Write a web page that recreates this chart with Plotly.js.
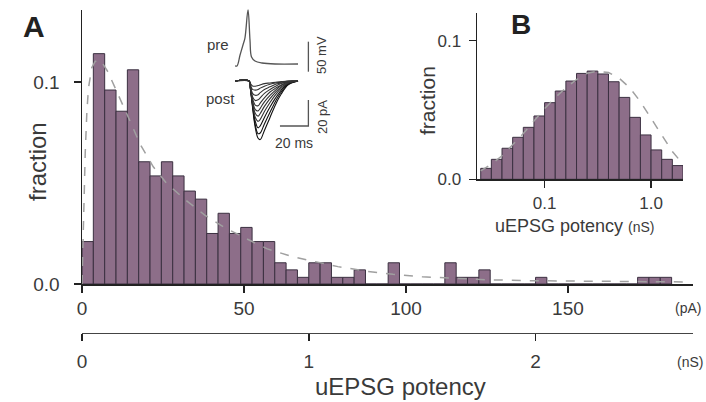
<!DOCTYPE html>
<html>
<head>
<meta charset="utf-8">
<script src="https://cdn.plot.ly/plotly-3.0.1.min.js"></script>
<style>
html,body{margin:0;padding:0;background:#fff;}
#chart{width:706px;height:402px;}
</style>
</head>
<body>
<div id="chart"></div>
<script>
// ---------- Panel A: histogram (pA) ----------
const binCentersPA = [1.75, 5.25, 8.75, 12.25, 15.75, 19.25, 22.75, 26.25, 29.75, 33.25,
  36.75, 40.25, 43.75, 47.25, 50.75, 54.25, 57.75, 61.25, 64.75, 68.25,
  71.75, 75.25, 78.75, 82.25, 85.75, 89.25, 92.75, 96.25, 99.75, 103.25,
  106.75, 110.25, 113.75, 117.25, 120.75, 124.25, 127.75, 131.25, 134.75, 138.25,
  141.75, 145.25, 148.75, 152.25, 155.75, 159.25, 162.75, 166.25, 169.75, 173.25,
  176.75, 180.25];
const fractionA = [0.021, 0.114, 0.096, 0.0855, 0.106, 0.0605, 0.0535, 0.0605, 0.0535, 0.046,
  0.042, 0.025, 0.035, 0.025, 0.028, 0.021, 0.021, 0.0105, 0.007, 0.0033,
  0.0105, 0.0105, 0.0033, 0.0033, 0.007, 0, 0, 0.0105, 0, 0,
  0, 0, 0.0105, 0.0033, 0.0033, 0.007, 0, 0, 0, 0,
  0.0033, 0, 0, 0, 0, 0, 0, 0, 0, 0.0033,
  0.0033, 0.0033];
const fitA_x = [0, 0.5, 1, 1.5, 2, 3, 4, 5, 6, 8, 10, 12, 15, 18, 22, 26, 32, 38, 44, 50,
  57, 65, 72, 79, 88, 96, 105, 115, 125, 140, 155, 170, 188];
const fitA_y = [0, 0.035, 0.065, 0.085, 0.097, 0.107, 0.110, 0.111, 0.110, 0.105, 0.098, 0.091,
  0.080, 0.069, 0.058, 0.050, 0.0415, 0.034, 0.028, 0.023, 0.0175, 0.0135, 0.011, 0.0086,
  0.0063, 0.0048, 0.0036, 0.0027, 0.0021, 0.0016, 0.0013, 0.0011, 0.001];
const pATicks = [0, 50, 100, 150];
const nSTicks = [0, 1, 2];
const yTicksA = [0, 0.1];
const yTickTextA = ['0.0', '0.1'];

// ---------- Panel B: histogram (log10 nS) ----------
const binCentersLogB = [-1.55, -1.45, -1.35, -1.25, -1.15, -1.05, -0.95, -0.85, -0.75, -0.65,
  -0.55, -0.45, -0.35, -0.25, -0.15, -0.05, 0.05, 0.15, 0.25];
const fractionB = [0.0079, 0.0144, 0.0224, 0.0303, 0.0375, 0.0457, 0.0553, 0.0637, 0.0709, 0.0764,
  0.0781, 0.0760, 0.0704, 0.0591, 0.0447, 0.0320, 0.0212, 0.0144, 0.0099];
const fitB_x = [-1.6, -1.5, -1.4, -1.3, -1.2, -1.1, -1.0, -0.9, -0.8, -0.7, -0.6, -0.5, -0.4,
  -0.3, -0.2, -0.1, 0.0, 0.1, 0.2, 0.3];
const fitB_y = [0.006, 0.011, 0.017, 0.025, 0.033, 0.042, 0.051, 0.059, 0.066, 0.072, 0.0765,
  0.078, 0.077, 0.073, 0.066, 0.056, 0.044, 0.031, 0.020, 0.011];
const xTicksB = [-1, 0];
const xTickTextB = ['0.1', '1.0'];
const yTicksB = [0, 0.1];
const yTickTextB = ['0.0', '0.1'];

// ---------- Inset traces ----------
const preTime = [0, 1.4, 3.6, 5.7, 7.1, 9.3, 10.7, 11.8, 14.3, 19.3, 28.6, 45];
const preVm = [-73, -73.3, -55, -38.3, -26.7, 20, -30, -58.3, -65, -68.3, -70, -70];
const postTime = [0, 10, 11, 12.5, 14.5, 16.5, 18, 21, 25, 29, 33, 38, 45];
const postCurrents = [
  [0, 0, -6, -20, -36, -44, -45, -38, -28, -18, -10, -3, 0],
  [0, 0, -6, -19, -34, -40.5, -40, -33, -24, -15.5, -8.5, -2.5, 0],
  [0, 0, -6, -18, -31, -36, -34.5, -28, -20, -13, -7, -2, 0],
  [0, 0, -5.5, -17, -28, -31, -29.5, -23.5, -16.5, -10.5, -5.5, -1.5, 0],
  [0, 0, -5.5, -16, -25, -27, -25, -19.5, -13.5, -8.5, -4.5, -1.5, 0],
  [0, 0, -5, -15, -22, -23, -21, -16, -11, -7, -3.5, -1, 0],
  [0, 0, -5, -13.5, -18.5, -19, -17, -13, -8.5, -5.5, -3, -1, 0],
  [0, 0, -4.5, -12, -15, -14.5, -13, -9.5, -6.5, -4, -2, -0.5, 0],
  [0, 0, -4, -9.5, -11, -10.5, -9, -6.5, -4.5, -2.5, -1.5, -0.5, 0],
  [0, 0, -3, -6.5, -7, -6.5, -5.5, -4, -2.5, -1.5, -1, 0, 0],
  [0, 0, -2, -3.8, -4, -3.5, -3, -2, -1.5, -1, -0.5, 0, 0]
];
const preScaleBar = {x: [52.4, 52.4], y: [-32.8, -82.8]};       // 50 mV
const postScaleBar = {x: [32.1, 52.4, 52.4], y: [-34.6, -34.6, -14.6]}; // 20 ms, 20 pA

// ---------- helpers ----------
const W = 706, H = 402;
const px = v => v / W;
const py = v => 1 - v / H;
const FONT = 'Liberation Sans, Arial, Helvetica, sans-serif';
const BAR_FILL = '#8d6e89';
const BAR_LINE = '#3b3040';
const AX = '#222';
const TXT = '#3a3a3a';

const traces = [];
traces.push({type: 'bar', x: binCentersPA, y: fractionA, xaxis: 'x', yaxis: 'y',
  marker: {color: BAR_FILL, line: {color: BAR_LINE, width: 1}}, hoverinfo: 'skip'});
traces.push({type: 'scatter', mode: 'lines', x: fitA_x, y: fitA_y, xaxis: 'x', yaxis: 'y',
  line: {color: '#a0a0a0', width: 1.5, dash: 'dash'}, hoverinfo: 'skip'});
// dummy trace for the nS axis
traces.push({type: 'scatter', mode: 'markers', x: [0], y: [0.5], xaxis: 'x2', yaxis: 'y6',
  marker: {opacity: 0}, hoverinfo: 'skip'});
traces.push({type: 'bar', x: binCentersLogB, y: fractionB, xaxis: 'x3', yaxis: 'y3',
  marker: {color: BAR_FILL, line: {color: BAR_LINE, width: 1}}, hoverinfo: 'skip'});
traces.push({type: 'scatter', mode: 'lines', x: fitB_x, y: fitB_y, xaxis: 'x3', yaxis: 'y3',
  line: {color: '#a0a0a0', width: 1.5, dash: 'dash'}, hoverinfo: 'skip'});
// inset
traces.push({type: 'scatter', mode: 'lines', x: preTime, y: preVm, xaxis: 'x4', yaxis: 'y4',
  line: {color: '#555', width: 1.3, shape: 'spline'}, hoverinfo: 'skip'});
traces.push({type: 'scatter', mode: 'lines', x: preScaleBar.x, y: preScaleBar.y, xaxis: 'x4', yaxis: 'y4',
  line: {color: '#555', width: 1.3}, hoverinfo: 'skip'});
postCurrents.forEach((c, i) => {
  traces.push({type: 'scatter', mode: 'lines', x: postTime, y: c, xaxis: 'x4', yaxis: 'y5',
    line: {color: i < 3 ? '#111' : '#333', width: 1.1, shape: 'spline'}, hoverinfo: 'skip'});
});
traces.push({type: 'scatter', mode: 'lines', x: postScaleBar.x, y: postScaleBar.y, xaxis: 'x4', yaxis: 'y5',
  line: {color: '#555', width: 1.3}, hoverinfo: 'skip'});

const tickFont = {family: FONT, size: 19, color: TXT};
const axBase = {showgrid: false, zeroline: false, showline: true, linecolor: AX, linewidth: 1.5,
  ticks: 'outside', ticklen: 7, tickwidth: 1.5, tickcolor: AX, fixedrange: true};

const layout = {
  width: W, height: H,
  margin: {l: 0, r: 0, t: 0, b: 0, pad: 0},
  paper_bgcolor: '#fff', plot_bgcolor: 'rgba(0,0,0,0)',
  showlegend: false, bargap: 0,
  font: {family: FONT, color: TXT},
  xaxis: Object.assign({}, axBase, {domain: [px(82), px(693)], range: [0, 188.6], anchor: 'y',
    tickmode: 'array', tickvals: pATicks, tickfont: tickFont, ticklabelstandoff: 0}),
  yaxis: Object.assign({}, axBase, {domain: [py(284), py(10)], range: [0, 0.1356], anchor: 'x',
    tickmode: 'array', tickvals: yTicksA, ticktext: yTickTextA, tickfont: tickFont, ticklabelstandoff: 10}),
  xaxis2: Object.assign({}, axBase, {domain: [px(82), px(693)], range: [0, 188.6 / 70], anchor: 'y6',
    tickmode: 'array', tickvals: nSTicks, tickfont: tickFont, ticklabelstandoff: 4, linewidth: 1.3, linecolor: '#444'}),
  yaxis6: {domain: [py(333), py(332)], range: [0, 1], visible: false, anchor: 'x2', fixedrange: true},
  xaxis3: Object.assign({}, axBase, {domain: [px(477), px(683)], range: [-1.635, 0.3], anchor: 'y3',
    tickmode: 'array', tickvals: xTicksB, ticktext: xTickTextB,
    tickfont: {family: FONT, size: 17, color: TXT}, ticklabelstandoff: 1}),
  yaxis3: Object.assign({}, axBase, {domain: [py(179.3), py(13)], range: [0, 0.12], anchor: 'x3',
    tickmode: 'array', tickvals: yTicksB, ticktext: yTickTextB,
    tickfont: {family: FONT, size: 17, color: TXT}, ticklabelstandoff: 4}),
  xaxis4: {domain: [px(235), px(335)], range: [0, 71.4], visible: false, anchor: 'y4', fixedrange: true},
  yaxis4: {domain: [py(75), py(5)], range: [-88.3, 28.3], visible: false, anchor: 'x4', fixedrange: true},
  yaxis5: {domain: [py(145), py(75)], range: [-49.2, 4.6], visible: false, anchor: 'x4', fixedrange: true},
  annotations: [
    {text: '<b>A</b>', x: px(34), y: py(26), font: {size: 30, color: '#222'}},
    {text: '<b>B</b>', x: px(521), y: py(25), font: {size: 28, color: '#222'}},
    {text: 'fraction', x: px(37), y: py(162), textangle: -90, font: {size: 24, color: TXT}},
    {text: 'uEPSG potency', x: px(400), y: py(386), font: {size: 24, color: TXT}},
    {text: '(pA)', x: px(688), y: py(308), font: {size: 14, color: TXT}},
    {text: '(nS)', x: px(690), y: py(362), font: {size: 14, color: TXT}},
    {text: 'fraction', x: px(427), y: py(101), textangle: -90, font: {size: 21, color: TXT}},
    {text: 'uEPSG potency <span style="font-size:14px">(nS)</span>', x: px(575), y: py(226), font: {size: 18, color: TXT}},
    {text: 'pre', x: px(218), y: py(45), font: {size: 15, color: TXT}},
    {text: 'post', x: px(221), y: py(98), font: {size: 15, color: TXT}},
    {text: '20 ms', x: px(294), y: py(143), font: {size: 14, color: TXT}},
    {text: '50 mV', x: px(322), y: py(55), textangle: -90, font: {size: 13, color: TXT}},
    {text: '20 pA', x: px(322), y: py(117), textangle: -90, font: {size: 13, color: TXT}}
  ].map(a => Object.assign({xref: 'paper', yref: 'paper', showarrow: false, xanchor: 'center', yanchor: 'middle'}, a))
};

Plotly.newPlot('chart', traces, layout, {staticPlot: true, displayModeBar: false});
</script>
</body>
</html>
